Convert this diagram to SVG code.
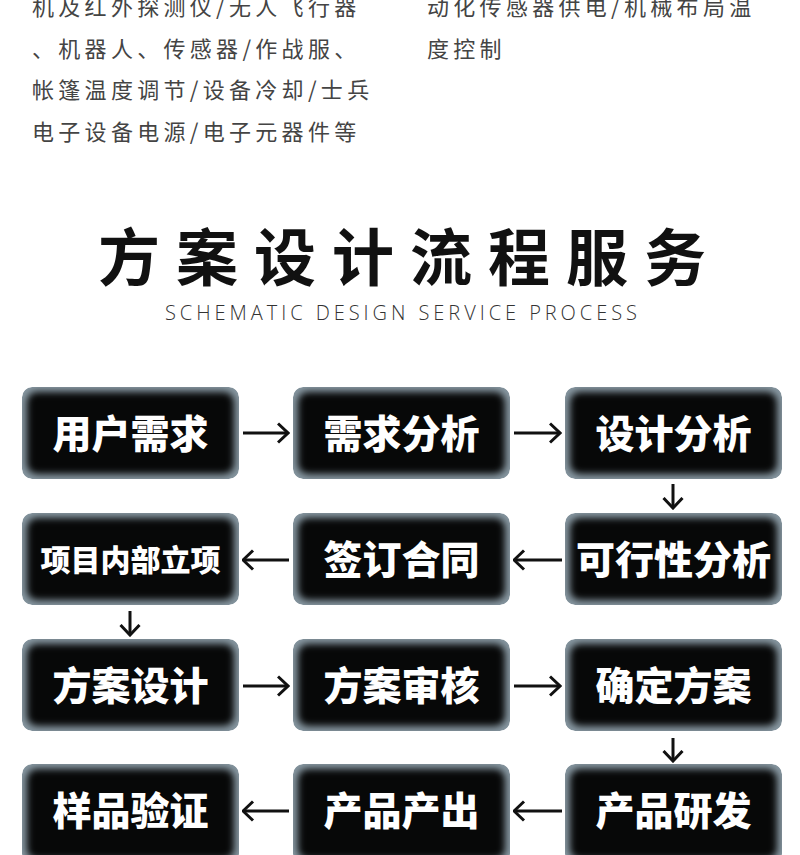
<svg xmlns="http://www.w3.org/2000/svg" width="800" height="855" viewBox="0 0 800 855">
<defs>
<style>
.body{font-family:"Noto Sans CJK SC","Noto Sans",sans-serif;font-size:22px;fill:#444;letter-spacing:4.3px}
.title{font-family:"Noto Sans CJK SC",sans-serif;font-size:62px;font-weight:700;fill:#111;letter-spacing:16px}
.sub{font-family:"Open Sans","Noto Sans",sans-serif;font-size:20px;font-weight:300;fill:#333}
.box{fill:#000;filter:url(#glow)}
.lbl{font-family:"Noto Sans CJK SC",sans-serif;font-size:39px;font-weight:900;fill:#fff;text-anchor:middle}
.conn{stroke:#111;stroke-width:3;fill:none;marker-end:url(#ah)}
</style>
<filter id="glow" x="0" y="0" width="1" height="1" color-interpolation-filters="sRGB">
<feMorphology in="SourceAlpha" operator="erode" radius="5" result="e"/>
<feGaussianBlur in="e" stdDeviation="3.5" result="b"/>
<feFlood flood-color="#8797a1" result="c"/>
<feComposite in="c" in2="SourceAlpha" operator="in" result="base"/>
<feFlood flood-color="#070808"/>
<feComposite in2="b" operator="in" result="dark"/>
<feMerge result="m"><feMergeNode in="base"/><feMergeNode in="dark"/></feMerge>
<feComposite in="m" in2="SourceAlpha" operator="in"/>
</filter>
<marker id="ah" viewBox="0 0 13 22" refX="11.5" refY="11" markerWidth="13" markerHeight="22" orient="auto" markerUnits="userSpaceOnUse">
<path d="M1.5,1.5 L11.5,11 L1.5,20.5" fill="none" stroke="#111" stroke-width="3"/>
</marker>
</defs>
<rect width="800" height="855" fill="#fff"/>
<g id="intro">
<text class="body" x="32" y="15">机及红外探测仪/无人飞行器</text>
<text class="body" x="32" y="57">、机器人、传感器/作战服、</text>
<text class="body" x="32" y="98">帐篷温度调节/设备冷却/士兵</text>
<text class="body" x="32" y="140">电子设备电源/电子元器件等</text>
<text class="body" x="427" y="15">动化传感器供电/机械布局温</text>
<text class="body" x="427" y="57">度控制</text>
</g>
<g id="heading">
<text class="title" x="98" y="281">方案设计流程服务</text>
<text class="sub" x="165" y="320" textLength="472" lengthAdjust="spacing">SCHEMATIC DESIGN SERVICE PROCESS</text>
</g>
<g id="n1"><rect class="box" x="22" y="387" width="217" height="92" rx="10"/><text class="lbl" x="130.5" y="448">用户需求</text></g>
<g id="n2"><rect class="box" x="293" y="387" width="217" height="92" rx="10"/><text class="lbl" x="401.5" y="448">需求分析</text></g>
<g id="n3"><rect class="box" x="565" y="387" width="217" height="92" rx="10"/><text class="lbl" x="673.5" y="448">设计分析</text></g>
<g id="n4"><rect class="box" x="565" y="513" width="217" height="92" rx="10"/><text class="lbl" x="673.5" y="574">可行性分析</text></g>
<g id="n5"><rect class="box" x="293" y="513" width="217" height="92" rx="10"/><text class="lbl" x="401.5" y="574">签订合同</text></g>
<g id="n6"><rect class="box" x="22" y="513" width="217" height="92" rx="10"/><text class="lbl" x="130.5" y="571" style="font-size:30px">项目内部立项</text></g>
<g id="n7"><rect class="box" x="22" y="639" width="217" height="92" rx="10"/><text class="lbl" x="130.5" y="700">方案设计</text></g>
<g id="n8"><rect class="box" x="293" y="639" width="217" height="92" rx="10"/><text class="lbl" x="401.5" y="700">方案审核</text></g>
<g id="n9"><rect class="box" x="565" y="639" width="217" height="92" rx="10"/><text class="lbl" x="673.5" y="700">确定方案</text></g>
<g id="n10"><rect class="box" x="565" y="764" width="217" height="100" rx="10"/><text class="lbl" x="673.5" y="825">产品研发</text></g>
<g id="n11"><rect class="box" x="293" y="764" width="217" height="100" rx="10"/><text class="lbl" x="401.5" y="825">产品产出</text></g>
<g id="n12"><rect class="box" x="22" y="764" width="217" height="100" rx="10"/><text class="lbl" x="130.5" y="825">样品验证</text></g>
<g id="connectors">
<path class="conn" d="M243,433 H288"/>
<path class="conn" d="M514,433 H560"/>
<path class="conn" d="M673,484 V508"/>
<path class="conn" d="M562,560 H514"/>
<path class="conn" d="M289,560 H243"/>
<path class="conn" d="M130,611 V635"/>
<path class="conn" d="M243,686 H288"/>
<path class="conn" d="M514,686 H560"/>
<path class="conn" d="M673,738 V761"/>
<path class="conn" d="M562,811 H514"/>
<path class="conn" d="M289,811 H243"/>
</g>
</svg>
